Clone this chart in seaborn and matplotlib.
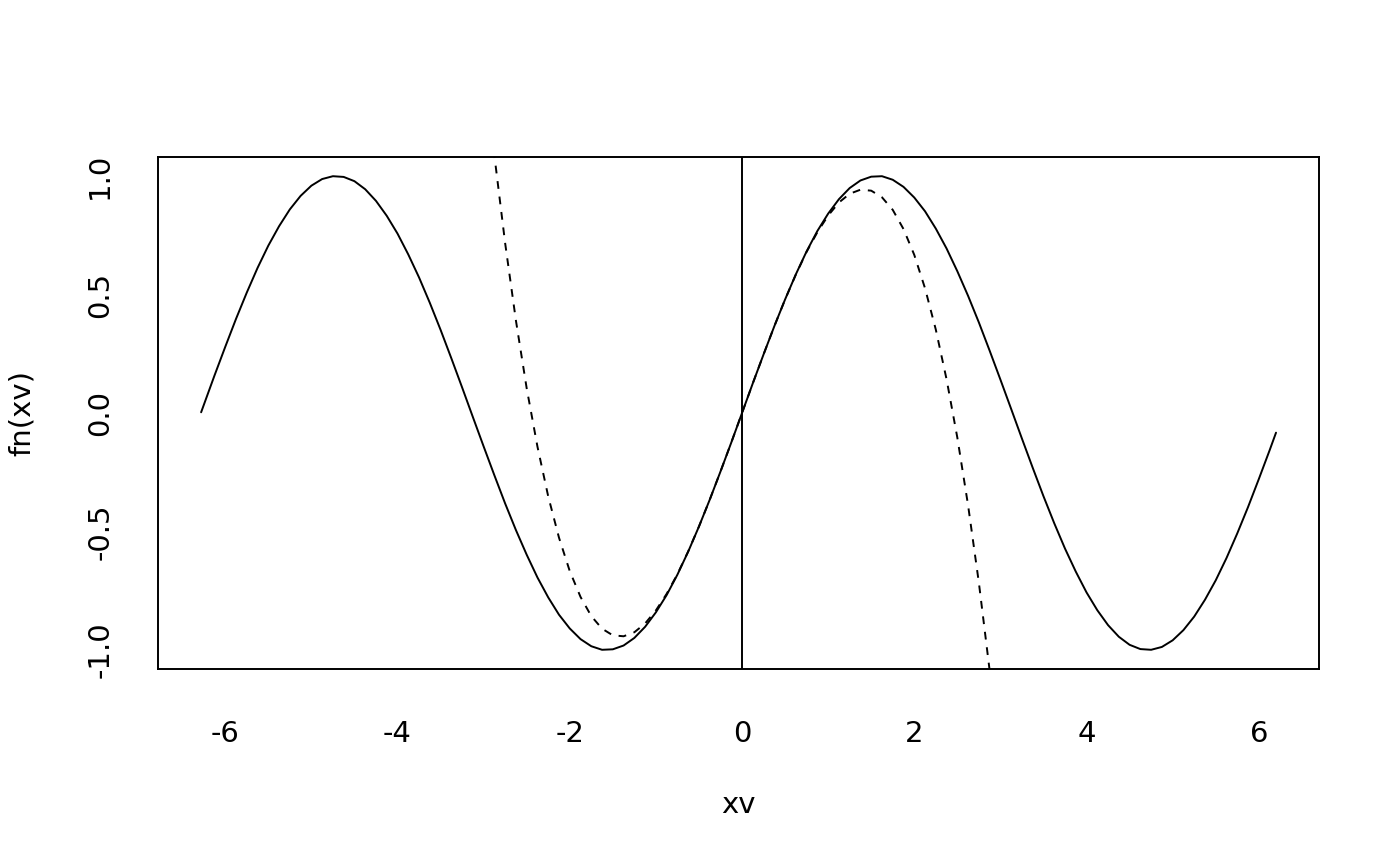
import matplotlib
matplotlib.use("Agg")
import matplotlib.pyplot as plt
import seaborn as sns

# sine curve
xv = [-6.28, -6.125, -6.0, -5.875, -5.75, -5.625, -5.5, -5.375, -5.25, -5.125,
      -5.0, -4.875, -4.75, -4.625, -4.5, -4.375, -4.25, -4.125, -4.0, -3.875,
      -3.75, -3.625, -3.5, -3.375, -3.25, -3.125, -3.0, -2.875, -2.75, -2.625,
      -2.5, -2.375, -2.25, -2.125, -2.0, -1.875, -1.75, -1.625, -1.5, -1.375,
      -1.25, -1.125, -1.0, -0.875, -0.75, -0.625, -0.5, -0.375, -0.25, -0.125,
      0.0, 0.125, 0.25, 0.375, 0.5, 0.625, 0.75, 0.875, 1.0, 1.125, 1.25,
      1.375, 1.5, 1.625, 1.75, 1.875, 2.0, 2.125, 2.25, 2.375, 2.5, 2.625,
      2.75, 2.875, 3.0, 3.125, 3.25, 3.375, 3.5, 3.625, 3.75, 3.875, 4.0,
      4.125, 4.25, 4.375, 4.5, 4.625, 4.75, 4.875, 5.0, 5.125, 5.25, 5.375,
      5.5, 5.625, 5.75, 5.875, 6.0, 6.125, 6.2]
fn_xv = [0.003, 0.158, 0.279, 0.397, 0.508, 0.612, 0.706, 0.788, 0.859, 0.916,
         0.959, 0.987, 0.999, 0.996, 0.978, 0.944, 0.895, 0.832, 0.757, 0.669,
         0.572, 0.465, 0.351, 0.231, 0.108, -0.017, -0.141, -0.263, -0.382,
         -0.494, -0.598, -0.694, -0.778, -0.851, -0.909, -0.954, -0.984, -0.999,
         -0.997, -0.981, -0.949, -0.902, -0.841, -0.768, -0.682, -0.585, -0.479,
         -0.366, -0.247, -0.125,
         0.0, 0.125, 0.247, 0.366, 0.479, 0.585, 0.682, 0.768, 0.841, 0.902,
         0.949, 0.981, 0.997, 0.999, 0.984, 0.954, 0.909, 0.851, 0.778, 0.694,
         0.598, 0.494, 0.382, 0.263, 0.141, 0.017, -0.108, -0.231, -0.351,
         -0.465, -0.572, -0.669, -0.757, -0.832, -0.895, -0.944, -0.978, -0.996,
         -0.999, -0.987, -0.959, -0.916, -0.859, -0.788, -0.706, -0.612, -0.508,
         -0.397, -0.279, -0.158, -0.083]

# dashed approximation curve
xa = [-3.0, -2.875, -2.75, -2.625, -2.5, -2.375, -2.25, -2.125, -2.0, -1.875,
      -1.75, -1.625, -1.5, -1.375, -1.25, -1.125, -1.0, -0.875, -0.75, -0.625,
      -0.5, -0.375, -0.25, -0.125, 0.0, 0.125, 0.25, 0.375, 0.5, 0.625, 0.75,
      0.875, 1.0, 1.125, 1.25, 1.375, 1.5, 1.625, 1.75, 1.875, 2.0, 2.125,
      2.25, 2.375, 2.5, 2.625, 2.75, 2.875, 3.0]
ya = [1.5, 1.086, 0.716, 0.390, 0.104, -0.142, -0.352, -0.526, -0.667, -0.776,
      -0.857, -0.910, -0.938, -0.942, -0.925, -0.888, -0.833, -0.763, -0.680,
      -0.584, -0.479, -0.366, -0.247, -0.125, 0.0, 0.125, 0.247, 0.366, 0.479,
      0.584, 0.680, 0.763, 0.833, 0.888, 0.925, 0.942, 0.938, 0.910, 0.857,
      0.776, 0.667, 0.526, 0.352, 0.142, -0.104, -0.390, -0.716, -1.086, -1.5]

x_ticks = [-6, -4, -2, 0, 2, 4, 6]
y_ticks = [-1.0, -0.5, 0.0, 0.5, 1.0]

sns.set_style("white")
plt.rcParams["font.family"] = ["DejaVu Sans"]
plt.rcParams["text.color"] = "black"
plt.rcParams["axes.labelcolor"] = "black"

fig = plt.figure(figsize=(14, 8.66), dpi=100)
ax = fig.add_axes([0.1129, 0.2275, 0.8293, 0.5912])

sns.lineplot(x=xv, y=fn_xv, sort=False, color="black", linewidth=1.4, ax=ax)
sns.lineplot(x=xa, y=ya, sort=False, color="black", linewidth=1.4, ax=ax)
ax.lines[-1].set_dashes((4, 4))
ax.axvline(0, color="black", linewidth=1.4)

ax.set_xlim(-6.78, 6.70)
ax.set_ylim(-1.08, 1.08)
ax.set_xticks(x_ticks)
ax.set_xticklabels([str(t) for t in x_ticks])
ax.set_yticks(y_ticks)
ax.set_yticklabels([f"{t:.1f}" for t in y_ticks], rotation=90, va="center")

for s in ax.spines.values():
    s.set_color("black")
    s.set_linewidth(1.4)
ax.tick_params(axis="both", direction="out", length=14.5, width=1.4,
               color="black", labelsize=21, labelcolor="black")
ax.tick_params(axis="x", pad=22)
ax.tick_params(axis="y", pad=17)

ax.set_xlabel("xv", fontsize=21)
ax.set_ylabel("fn(xv)", fontsize=21)
ax.xaxis.set_label_coords(0.5, -0.2656)
ax.xaxis.label.set_va("center")
ax.yaxis.set_label_coords(-0.1171, 0.5)
ax.yaxis.label.set_va("center")

fig.savefig("out.png", dpi=100, facecolor="white")
